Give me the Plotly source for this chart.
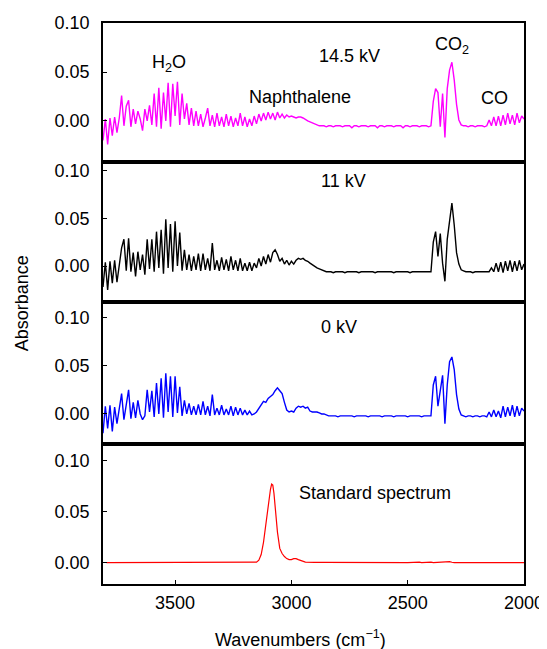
import plotly.graph_objects as go

# ---------------- data ----------------
# common wavenumber grid of the measured spectra (cm^-1), 3810 -> 2000, step 10
wavenumbers = list(range(3810, 1999, -10))

# absorbance values in milli-absorbance units
absorb_14_5kv_milli = [
    # 3810-3420
    -20, 2, -24, 3, -15, 4, -12, 3, 26, -5,
    15, 21, -6, 12, -3, 10, 2, -10, 12, 0,
    16, -4, 28, -6, 34, -8, 29, 0, 39, -6,
    38, 5, 40, -4, 28, 2, 18, -4, 13, -5,
    # 3410-3170
    10, -5, 7, -6, 3, 13, -5, 6, -6, 8,
    -5, 4, -6, 7, -5, 5, -6, 3, -5, 8,
    -5, 4, -6, 2, -5,
    # 3160-2870
    5, -3, 7, 0, 8, 1, 9, 2, 8, 1,
    9, 3, 7, 3, 6, 4, 5, 4, 3, 4,
    4, 3, 1, 0, -1, -2, -3, -4, -5, -5,
    # 2860-2400
    -5, -6, -5, -5, -6, -5, -5, -5, -6, -5,
    -5, -5, -7, -5, -5, -6, -5, -5, -5, -6,
    -5, -5, -5, -7, -5, -5, -6, -5, -5, -5,
    -6, -5, -5, -5, -7, -5, -5, -6, -5, -5,
    -5, -6, -5, -5, -5, -6, -5,
    # 2390-2280
    20, 33, 29, -6, 28, -17, 33, 52, 60, 42, 17, 1,
    # 2270-2000
    -4, -5, -5, -6, -5, -5, -6, -5, -5, -5, -6, -5,
    1, -5, 4, -5, 5, -5, 6, -4, 8, -3, 6, -4, 8, -2, 5, 2,
]

absorb_11kv_milli = [
    -22, 4, -25, 5, -18, 6, -17, 4, 19, 28,
    -5, 29, -6, 14, -11, 15, -4, 12, -9, 28,
    -3, 28, -6, 36, -2, 38, -8, 49, -2, 44,
    -6, 47, 0, 35, -5, 17, -4, 12, -5, 10,
    -4, 13, -5, 13, -4, 8, -5, 24, -4, 6,
    -5, 9, -4, 7, -5, 10, -4, 6, -5, 8,
    -5, 3, -5, 4, -5,
    3, -2, 8, 0, 10, 2, 12, 4, 14, 17,
    12, 5, 8, 2, 6, 1, 5, 2, 6, 8,
    7, 8, 6, 5, 3, 1, 0, -2, -3, -4,
    -5, -6, -6, -6, -7, -6, -6, -6, -6, -7,
    -6, -6, -6, -6, -6, -7, -6, -6, -6, -6,
    -6, -6, -7, -6, -6, -6, -6, -6, -6, -6,
    -7, -6, -6, -6, -6, -6, -6, -7, -6, -6,
    -6, -6, -6, -6, -6, -6, -6,
    25, 36, 10, 34, 3, -16, 28, 47, 66, 43, 14, 2,
    -4, -5, -6, -6, -6, -7, -6, -6, -6, -6, -6, -6,
    -6, -2, -6, 3, -6, 4, -7, 5, -5, 6, -6, 5, -5, 6, -4, 2,
]

absorb_0kv_milli = [
    -20, 8, -15, 9, -18, 7, -10, 6, 21, -6,
    12, 25, -5, 12, -4, 14, 0, -6, -2, 25,
    2, 24, -3, 32, 0, 37, -4, 42, 2, 39,
    -3, 39, 1, 28, -2, 14, 0, 11, -1, 8,
    -1, 10, -1, 13, -1, 8, -2, 20, -1, 6,
    -1, 9, -1, 5, -1, 8, -2, 7, -1, 6,
    -1, 4, -1, 3, -1,
    0, 2, 6, 9, 13, 12, 16, 18, 20, 24,
    27, 24, 21, 12, 4, 2, 3, 2, 6, 8,
    7, 8, 6, 7, 3, 2, 2, 2, 1, 0,
    0, -1, -2, -2, -2, -2, -3, -2, -2, -2,
    -2, -2, -2, -3, -2, -2, -2, -2, -2, -3,
    -2, -2, -2, -2, -2, -3, -2, -2, -2, -2,
    -3, -2, -2, -2, -2, -2, -3, -2, -2, -2,
    -2, -2, -3, -2, -2, -2, -2,
    30, 39, 8, 25, 40, -10, 30, 54, 59, 46, 20, 5,
    -1, -2, -3, -2, -2, -3, -2, -2, -3, -2, -2, -3,
    2, -3, 4, -3, 3, -4, 8, -3, 7, -2, 9, -3, 8, -2, 6, 3,
]

# standard (reference) naphthalene spectrum
std_wavenumbers = [3795, 3160, 3150, 3140, 3130, 3120, 3110, 3100, 3095, 3090,
                   3085, 3080, 3075, 3070, 3065, 3060, 3050, 3040, 3030, 3020,
                   3010, 3000, 2990, 2980, 2970, 2960, 2950, 2940, 2900, 2880,
                   2860, 2500, 2460, 2450, 2440, 2410, 2400, 2390, 2350, 2340,
                   2320, 2310, 2300, 2000]
std_absorb_milli = [0, 0, 0.5, 2.5, 8, 20, 38, 56, 65, 72,
                    77, 76, 68, 55, 42, 30, 14, 9, 6, 4,
                    3, 3, 4, 4, 3, 2, 1, 0.5, 0.3, 0.5,
                    0.3, 0, 0.5, 0.6, 0, 0.5, 0.5, 0, 0.6, 1,
                    1, 0.4, 0, 0]

assert len(absorb_14_5kv_milli) == len(wavenumbers)
assert len(absorb_11kv_milli) == len(wavenumbers)
assert len(absorb_0kv_milli) == len(wavenumbers)
assert len(std_absorb_milli) == len(std_wavenumbers)

series = [
    ("14.5 kV", absorb_14_5kv_milli, "#FF00FF"),
    ("11 kV", absorb_11kv_milli, "#000000"),
    ("0 kV", absorb_0kv_milli, "#0000FF"),
]

# ---------------- figure ----------------
FONT = "Arial, Liberation Sans, Helvetica, sans-serif"
fig = go.Figure()

for k, (name, vals, col) in enumerate(series, start=1):
    fig.add_trace(go.Scatter(
        x=wavenumbers, y=[v / 1000 for v in vals], mode="lines",
        line=dict(color=col, width=1.4), name=name,
        xaxis=f"x{k if k > 1 else ''}", yaxis=f"y{k if k > 1 else ''}",
        showlegend=False))

fig.add_trace(go.Scatter(
    x=std_wavenumbers, y=[v / 1000 for v in std_absorb_milli], mode="lines",
    line=dict(color="#FF0000", width=1.2), name="Standard spectrum",
    xaxis="x4", yaxis="y4", showlegend=False))

domains = [[0.7522, 1.0], [0.5027, 0.7522], [0.2496, 0.5027], [0.0, 0.2496]]
yranges = [[-0.042, 0.1001], [-0.0377, 0.109], [-0.0311, 0.1159], [-0.0209, 0.1164]]

axis_common = dict(showline=True, linecolor="black", linewidth=1.5, mirror=True,
                   showgrid=False, zeroline=False, automargin=False)
# the page body adds an 8 px offset, so the figure is 8 px smaller each way
layout = dict(
    width=539, height=641,
    margin=dict(l=95, r=23, t=15, b=65),
    paper_bgcolor="white", plot_bgcolor="white",
    font=dict(family=FONT, size=18, color="black"),
)
for k in range(1, 5):
    sx = "" if k == 1 else str(k)
    xa = dict(axis_common, range=[3810, 2000], anchor=f"y{sx}",
              tickvals=[3500, 3000, 2500, 2000])
    if k == 4:
        xa.update(ticks="inside", ticklen=4, tickwidth=1.2, tickcolor="black",
                  showticklabels=True, tickfont=dict(size=18, family=FONT),
                  ticklabelstandoff=2)
    else:
        xa.update(ticks="", showticklabels=False, matches="x4")
    layout[f"xaxis{sx}"] = xa
    layout[f"yaxis{sx}"] = dict(axis_common, domain=domains[k - 1], range=yranges[k - 1],
                                anchor=f"x{sx}", tickvals=[0, 0.05, 0.10],
                                tickformat=".2f", ticks="inside", ticklen=4,
                                tickwidth=1.2, tickcolor="black",
                                tickfont=dict(size=18, family=FONT),
                                ticklabelstandoff=8)

fig.update_layout(**layout)

# panel labels
labels = [
    ("x", "y", 2750, 0.0664, "14.5 kV"),
    ("x", "y", 3526, 0.0592, "H<sub>2</sub>O"),
    ("x", "y", 2964, 0.0244, "Naphthalene"),
    ("x", "y", 2310, 0.0766, "CO<sub>2</sub>"),
    ("x", "y", 2125, 0.0234, "CO"),
    ("x2", "y2", 2775, 0.089, "11 kV"),
    ("x3", "y3", 2797, 0.0895, "0 kV"),
    ("x4", "y4", 2640, 0.0683, "Standard spectrum"),
]
for xr, yr, xv, yv, txt in labels:
    fig.add_annotation(x=xv, y=yv, xref=xr, yref=yr, text=txt, showarrow=False,
                       font=dict(size=18, family=FONT, color="black"))

# axis titles
fig.add_annotation(x=-0.193, y=0.5, xref="paper", yref="paper", xanchor="center",
                   yanchor="middle", text="Absorbance", textangle=-90,
                   showarrow=False, font=dict(size=18, family=FONT, color="black"))
fig.add_annotation(x=0.468, y=-0.0963, xref="paper", yref="paper", xanchor="center",
                   yanchor="middle", text="Wavenumbers (cm<sup>\u22121</sup>)",
                   showarrow=False, font=dict(size=18, family=FONT, color="black"))

fig.write_html("out.html")
